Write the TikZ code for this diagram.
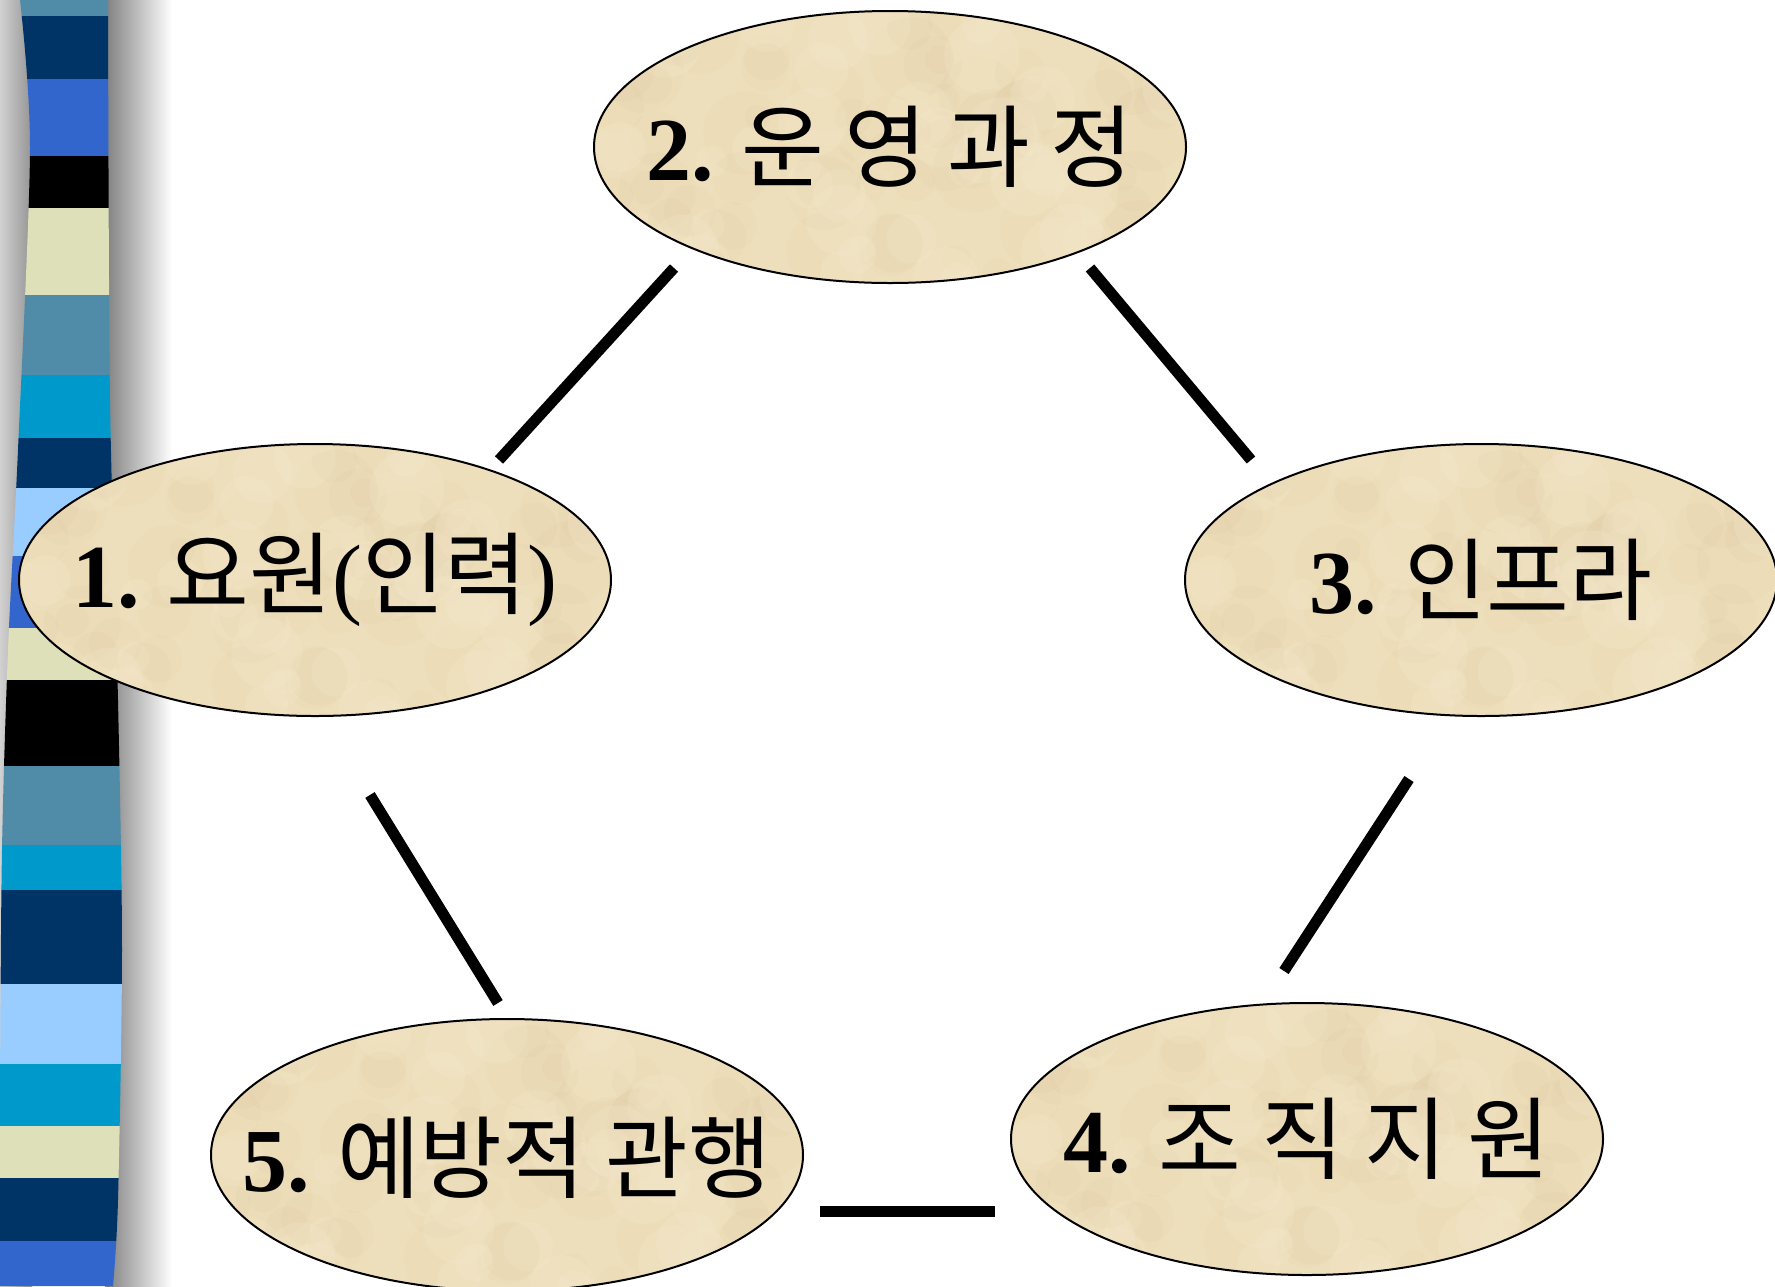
\documentclass[tikz,border=0pt]{standalone}
\usepackage{fontspec}
\setmainfont{Liberation Serif}
\newfontfamily\kr{Noto Sans CJK KR}
\usetikzlibrary{shapes.geometric}
\definecolor{tealg}{RGB}{80,140,168}
\definecolor{navy}{RGB}{0,51,102}
\definecolor{bblue}{RGB}{51,102,204}
\definecolor{cream}{RGB}{222,224,185}
\definecolor{cyanb}{RGB}{0,153,204}
\definecolor{lblue}{RGB}{153,204,255}
\definecolor{parch}{RGB}{238,223,188}
\definecolor{parchdark}{RGB}{222,200,160}
\definecolor{parchlight}{RGB}{246,236,208}
\tikzset{
  oval/.style={ellipse, line width=2pt, fill=parch,
    minimum width=592pt, minimum height=272pt, inner sep=0pt},
  label text/.style={inner sep=0pt, font=\kr\fontsize{90}{96}\selectfont},
  link/.style={line width=11pt, black}
}
\newcommand{\num}[1]{{\rmfamily\fontsize{90}{96}\selectfont\bfseries #1}}
\newcommand{\pth}[1]{{\rmfamily\fontsize{90}{96}\selectfont #1}}
\newcommand{\mottle}[1]{%
  \begin{scope}
  \clip (#1.center) ellipse [x radius=296pt, y radius=136pt];
  \pgfmathsetseed{7}
  \foreach \i in {1,...,70}{
    \pgfmathsetmacro{\dx}{rand*290}
    \pgfmathsetmacro{\dy}{rand*135}
    \pgfmathsetmacro{\rr}{12+abs(rand)*30}
    \fill[parchdark, opacity=0.12] ([shift={(\dx pt,\dy pt)}]#1.center) circle [radius=\rr pt];
  }
  \foreach \i in {1,...,45}{
    \pgfmathsetmacro{\dx}{rand*290}
    \pgfmathsetmacro{\dy}{rand*135}
    \pgfmathsetmacro{\rr}{10+abs(rand)*28}
    \fill[parchlight, opacity=0.22] ([shift={(\dx pt,\dy pt)}]#1.center) circle [radius=\rr pt];
  }
  \end{scope}
  \draw[line width=2pt] (#1.center) ellipse [x radius=296pt, y radius=136pt];
}
\begin{document}
\begin{tikzpicture}[x=1pt,y=-1pt]
\useasboundingbox (0,0) rectangle (1775,1286);
\clip (0,0) rectangle (1775,1286);
\fill[white] (0,0) rectangle (1775,1286);
% left gray and shadow
\shade[left color=black!18, right color=black!42] (0,0) rectangle (32,1286);
\shade[left color=black!50, right color=white] (105,0) rectangle (172,1286);
% striped bar
\begin{scope}
\clip plot[smooth] coordinates {(20,0) (30,150) (18,450) (8,650) (2,850) (0,1100) (0,1286)}
  -- plot[smooth] coordinates {(113,1286) (118,1200) (122,950) (118,700) (110,400) (108,0)} -- cycle;
\foreach \a/\b/\c in {0/16/tealg,16/79/navy,79/156/bblue,156/208/black,208/295/cream,
  295/375/tealg,375/438/cyanb,438/488/navy,488/556/lblue,556/628/bblue,628/680/cream,
  680/766/black,766/845/tealg,845/890/cyanb,890/984/navy,984/1064/lblue,1064/1126/cyanb,
  1126/1178/cream,1178/1241/navy,1241/1290/bblue}
  \fill[\c] (-5,\a) rectangle (130,\b);
\end{scope}
% ellipses
\node[oval] (n2) at (890,147) {}; \mottle{n2}
\node[oval] (n1) at (315,580) {}; \mottle{n1}
\node[oval] (n3) at (1481,580) {}; \mottle{n3}
\node[oval] (n5) at (507,1155) {}; \mottle{n5}
\node[oval] (n4) at (1307,1139) {}; \mottle{n4}
% labels
\node[label text] (t2) at (n2.center) {\num{2.} 운 영 과 정};
\node[label text] (t1) at (n1.center) {\num{1.} 요원\pth{(}인력\pth{)}};
\node[label text] (t3) at (n3.center) {\num{3.} 인프라};
\node[label text] (t5) at ([yshift=-3pt]n5.center) {\num{5.} 예방적 관행};
\node[label text] (t4) at (n4.center) {\num{4.} 조 직 지 원};
% connector ends
\coordinate (a12) at (674,268); \coordinate (b12) at (499,460);
\coordinate (a23) at (1090,268); \coordinate (b23) at (1251,460);
\coordinate (a34) at (1409,779); \coordinate (b34) at (1284,971);
\coordinate (a15) at (370,795); \coordinate (b15) at (498,1003);
\coordinate (a54) at (820,1211); \coordinate (b54) at (995,1211);
\draw[link] (a12) -- (b12);
\draw[link] (a23) -- (b23);
\draw[link] (a34) -- (b34);
\draw[link] (a15) -- (b15);
\draw[link] (a54) -- (b54);
\end{tikzpicture}
\end{document}
